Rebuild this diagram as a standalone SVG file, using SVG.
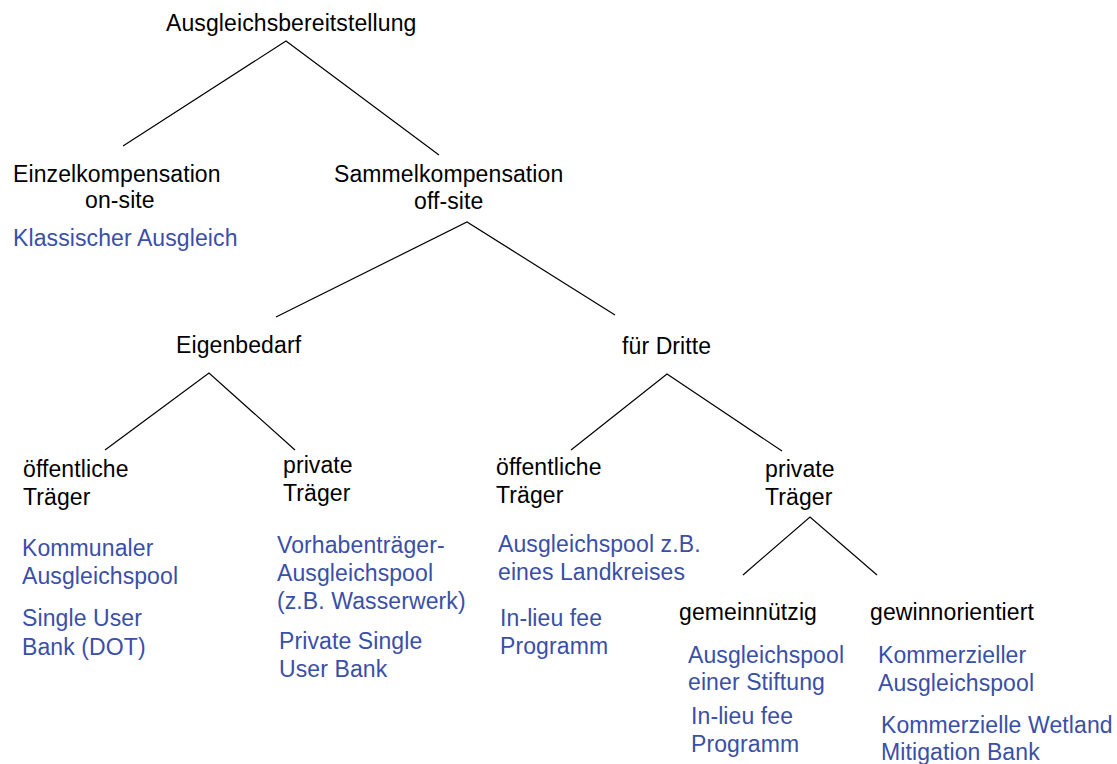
<svg xmlns="http://www.w3.org/2000/svg" width="1117" height="764" viewBox="0 0 1117 764">
  <style>
    text { font-family: "Liberation Sans", Arial, sans-serif; font-size: 23px; letter-spacing: 0.1px; }
    .cat { fill: #000000; }
    .ex { fill: #3a4fa8; }
    .link { stroke: #000000; stroke-width: 1.2; fill: none; }
  </style>
  <rect width="1117" height="764" fill="#ffffff"/>

  <!-- tree branches -->
  <g id="connectors">
    <polyline class="link" points="123,146 286,41 439,155"/>
    <polyline class="link" points="276,317 467,222 615,315"/>
    <polyline class="link" points="105,450 209,373 295,450"/>
    <polyline class="link" points="571,450 667,374 782,451"/>
    <polyline class="link" points="743,575 810,517 877,575"/>
  </g>

  <g id="root">
    <text class="cat" x="166" y="31">Ausgleichsbereitstellung</text>
  </g>

  <g id="einzel">
    <text class="cat" x="13" y="182">Einzelkompensation</text>
    <text class="cat" x="85" y="208">on-site</text>
    <text class="ex" x="13" y="246">Klassischer Ausgleich</text>
  </g>

  <g id="sammel">
    <text class="cat" x="334" y="182">Sammelkompensation</text>
    <text class="cat" x="414" y="209">off-site</text>
  </g>

  <g id="eigenbedarf">
    <text class="cat" x="176" y="353">Eigenbedarf</text>
  </g>

  <g id="dritte">
    <text class="cat" x="622" y="354">für Dritte</text>
  </g>

  <g id="eigen-oeffentlich">
    <text class="cat" x="23" y="477">öffentliche</text>
    <text class="cat" x="23" y="505">Träger</text>
    <text class="ex" x="22" y="556">Kommunaler</text>
    <text class="ex" x="22" y="584">Ausgleichspool</text>
    <text class="ex" x="22" y="626">Single User</text>
    <text class="ex" x="22" y="655">Bank (DOT)</text>
  </g>

  <g id="eigen-privat">
    <text class="cat" x="283" y="473">private</text>
    <text class="cat" x="283" y="501">Träger</text>
    <text class="ex" x="277" y="553">Vorhabenträger-</text>
    <text class="ex" x="277" y="581">Ausgleichspool</text>
    <text class="ex" x="277" y="609">(z.B. Wasserwerk)</text>
    <text class="ex" x="279" y="649">Private Single</text>
    <text class="ex" x="279" y="677">User Bank</text>
  </g>

  <g id="dritte-oeffentlich">
    <text class="cat" x="496" y="475">öffentliche</text>
    <text class="cat" x="496" y="503">Träger</text>
    <text class="ex" x="498" y="552">Ausgleichspool z.B.</text>
    <text class="ex" x="498" y="580">eines Landkreises</text>
    <text class="ex" x="500" y="626">In-lieu fee</text>
    <text class="ex" x="500" y="654">Programm</text>
  </g>

  <g id="dritte-privat">
    <text class="cat" x="765" y="477">private</text>
    <text class="cat" x="765" y="505">Träger</text>
  </g>

  <g id="gemeinnuetzig">
    <text class="cat" x="679" y="620">gemeinnützig</text>
    <text class="ex" x="688" y="663">Ausgleichspool</text>
    <text class="ex" x="688" y="690">einer Stiftung</text>
    <text class="ex" x="691" y="724">In-lieu fee</text>
    <text class="ex" x="691" y="752">Programm</text>
  </g>

  <g id="gewinnorientiert">
    <text class="cat" x="870" y="620">gewinnorientiert</text>
    <text class="ex" x="878" y="663">Kommerzieller</text>
    <text class="ex" x="878" y="691">Ausgleichspool</text>
    <text class="ex" x="881" y="733">Kommerzielle Wetland</text>
    <text class="ex" x="881" y="760">Mitigation Bank</text>
  </g>
</svg>
